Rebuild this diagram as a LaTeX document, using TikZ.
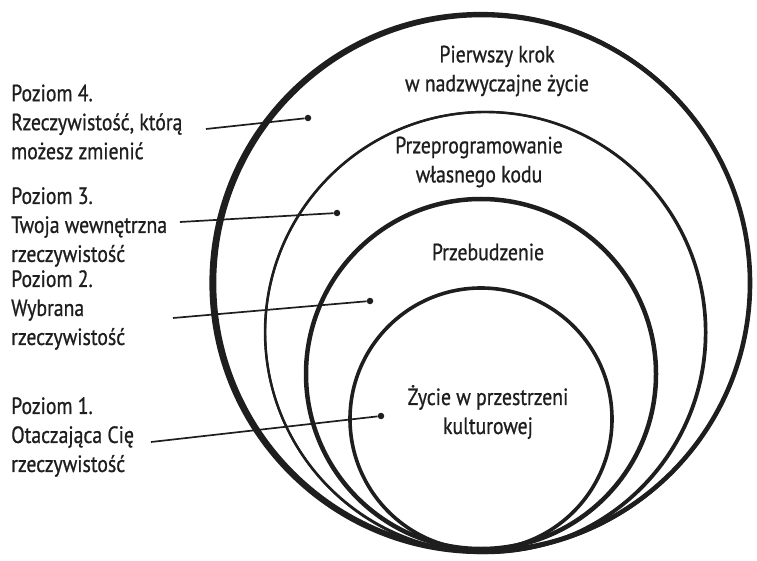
\documentclass[tikz,border=0pt]{standalone}
\usepackage{fontspec}
\setmainfont{PT Sans}[FakeStretch=0.84,FakeBold=0.8]
\definecolor{ink}{HTML}{1E1E1E}
\begin{document}
\begin{tikzpicture}[x=1pt,y=-1pt,
  ring/.style={draw=ink, circle, inner sep=0pt},
  lbl/.style={align=left, anchor=west, inner sep=0pt, text=ink,
    font=\fontsize{23.5}{29}\selectfont},
  ctext/.style={align=center, inner sep=0pt, text=ink,
    font=\fontsize{23.5}{29}\selectfont},
  dotm/.style={circle, fill=ink, inner sep=0pt, minimum size=6.5pt},
  lead/.style={draw=ink, line width=1.7pt}]
\useasboundingbox (0,0) rectangle (757,561);
% rings
\node[ring, line width=4.6pt, minimum size=536pt] (r4) at (482,283) {};
\draw[ink, line width=3.2pt] (480.5,283) circle (269.5);
\node[ring, line width=2.4pt, minimum size=440pt] (r3) at (485,332) {};
\draw[ink, line width=2.2pt] (485.8,332.5) circle (220.6);
\node[ring, line width=4.5pt, minimum size=350pt] (r2) at (481,374) {};
\node[ring, line width=3.6pt, minimum size=262pt] (r1) at (481,419) {};
% ring texts
\node[ctext] (t4) at (497,71) {Pierwszy krok\\w nadzwyczajne życie};
\node[ctext] (t3) at (479,162) {Przeprogramowanie\\własnego kodu};
\node[ctext] (t2) at (488,252) {Przebudzenie};
\node[ctext] (t1) at (488,412) {Życie w przestrzeni\\kulturowej};
% left labels
\node[lbl] (l4) at (11,122) {Poziom 4.\\Rzeczywistość, którą\\możesz zmienić};
\node[lbl] (l3) at (11,227) {Poziom 3.\\Twoja wewnętrzna\\rzeczywistość};
\node[lbl] (l2) at (11,310) {Poziom 2.\\Wybrana\\rzeczywistość};
\node[lbl] (l1) at (11,437) {Poziom 1.\\Otaczająca Cię\\rzeczywistość};
% leaders
\coordinate (s4) at (206,129);
\coordinate (s3) at (180,222);
\coordinate (s2) at (173,318);
\coordinate (s1) at (151,442);
\node[dotm] (d4) at (308,118) {};
\node[dotm] (d3) at (337,213) {};
\node[dotm] (d2) at (370,301) {};
\node[dotm] (d1) at (381,416) {};
\draw[lead] (s4) -- (d4);
\draw[lead] (s3) -- (d3);
\draw[lead] (s2) -- (d2);
\draw[lead] (s1) -- (d1);
\end{tikzpicture}
\end{document}
